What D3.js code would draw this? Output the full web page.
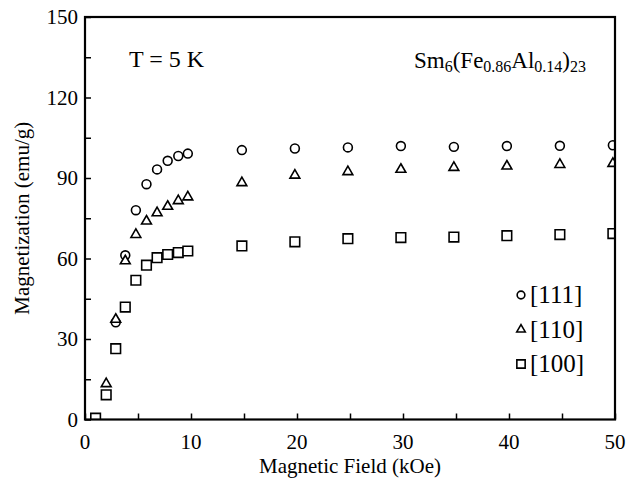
<!DOCTYPE html>
<html>
<head>
<meta charset="utf-8">
<script src="https://cdn.jsdelivr.net/npm/d3@7"></script>
<style>
  body { margin: 0; background: #fff; }
  svg { display: block; font-family: "Liberation Serif", "Times New Roman", serif; }
</style>
</head>
<body>
<svg width="629" height="479"></svg>
<script>
const width = 629;
const height = 479;
const margin = { top: 17, right: 14, bottom: 60, left: 85 };

// [111] circles
const field111 = [2.9, 3.8, 4.8, 5.8, 6.8, 7.8, 8.8, 9.7, 14.8, 19.8, 24.8, 29.8, 34.8, 39.8, 44.8, 49.8];
const mag111 = [36.2, 61.2, 78.0, 87.7, 93.2, 96.4, 98.2, 99.1, 100.4, 101.0, 101.4, 101.9, 101.6, 101.9, 102.0, 102.2];
// [110] triangles
const field110 = [2.0, 2.9, 3.8, 4.8, 5.8, 6.8, 7.8, 8.8, 9.7, 14.8, 19.8, 24.8, 29.8, 34.8, 39.8, 44.8, 49.8];
const mag110 = [13.3, 37.3, 59.1, 68.9, 73.9, 77.0, 79.4, 81.5, 82.9, 88.2, 91.0, 92.3, 93.2, 93.9, 94.4, 95.0, 95.4];
// [100] squares
const field100 = [1.0, 2.0, 2.9, 3.8, 4.8, 5.8, 6.8, 7.8, 8.8, 9.7, 14.8, 19.8, 24.8, 29.8, 34.8, 39.8, 44.8, 49.8];
const mag100 = [0.5, 9.2, 26.4, 41.9, 51.9, 57.5, 60.3, 61.5, 62.2, 62.8, 64.7, 66.2, 67.4, 67.8, 68.0, 68.5, 68.9, 69.3];

const xTicks = [0, 10, 20, 30, 40, 50];
const yTicks = [0, 30, 60, 90, 120, 150];
const legendLabels = ["[111]", "[110]", "[100]"];

const svg = d3.select("svg");
const x = d3.scaleLinear().domain([0, 50]).range([margin.left, width - margin.right]);
const y = d3.scaleLinear().domain([0, 150]).range([height - margin.bottom + 0.5, margin.top]);

svg.append("defs").append("clipPath").attr("id", "plot")
  .append("rect")
  .attr("x", x(0)).attr("y", y(150))
  .attr("width", x(50) - x(0)).attr("height", y(0) - y(150));

const series = [
  { name: legendLabels[0], type: d3.symbolCircle, size: 62, xs: field111, ys: mag111 },
  { name: legendLabels[1], type: d3.symbolTriangle, size: 42, xs: field110, ys: mag110 },
  { name: legendLabels[2], type: d3.symbolSquare, size: 92, xs: field100, ys: mag100 }
];

const marks = svg.append("g").attr("clip-path", "url(#plot)");
series.forEach(s => {
  marks.append("g")
    .selectAll("path")
    .data(s.xs.map((f, i) => [f, s.ys[i]]))
    .join("path")
    .attr("transform", d => `translate(${x(d[0])},${y(d[1])})`)
    .attr("d", d3.symbol().type(s.type).size(s.size))
    .attr("fill", "#fff")
    .attr("stroke", "#000")
    .attr("stroke-width", 1.6);
});

// axes, ticks pointing inward
const xAxis = svg.append("g")
  .attr("transform", `translate(0,${y(0)})`)
  .call(d3.axisBottom(x).tickValues(d3.range(0, 51, 5)).tickSize(-6).tickFormat(""));
const yAxis = svg.append("g")
  .attr("transform", `translate(${x(0)},0)`)
  .call(d3.axisLeft(y).tickValues(d3.range(0, 151, 15)).tickSize(-6).tickFormat(""));
[xAxis, yAxis].forEach(a => {
  a.select(".domain").remove();
  a.selectAll("line").attr("stroke-width", 1.5);
});

svg.append("rect")
  .attr("x", x(0)).attr("y", y(150))
  .attr("width", x(50) - x(0)).attr("height", y(0) - y(150))
  .attr("fill", "none").attr("stroke", "#000").attr("stroke-width", 2.2);

svg.append("g").selectAll("text")
  .data(xTicks)
  .join("text")
  .attr("x", d => x(d))
  .attr("y", y(0) + 29)
  .attr("text-anchor", "middle")
  .attr("font-size", 21)
  .text(d => d);

svg.append("g").selectAll("text")
  .data(yTicks)
  .join("text")
  .attr("x", x(0) - 7)
  .attr("y", d => y(d) + 7)
  .attr("text-anchor", "end")
  .attr("font-size", 21)
  .text(d => d);

svg.append("text")
  .attr("x", (x(0) + x(50)) / 2)
  .attr("y", 473)
  .attr("text-anchor", "middle")
  .attr("font-size", 21)
  .text("Magnetic Field (kOe)");

svg.append("text")
  .attr("transform", `translate(29,${(y(0) + y(150)) / 2}) rotate(-90)`)
  .attr("text-anchor", "middle")
  .attr("font-size", 21)
  .text("Magnetization (emu/g)");

svg.append("text")
  .attr("x", 129).attr("y", 67)
  .attr("font-size", 24)
  .text("T = 5 K");

const formula = svg.append("text")
  .attr("x", 414).attr("y", 68)
  .attr("font-size", 23);
[["Sm", 0], ["6", 1], ["(Fe", 0], ["0.86", 1], ["Al", 0], ["0.14", 1], [")", 0], ["23", 1]]
  .forEach(([t, sub]) => {
    formula.append("tspan")
      .attr("y", sub ? 72 : 68)
      .attr("font-size", sub ? 16 : 23)
      .text(t);
  });

const legend = svg.append("g");
series.forEach((s, i) => {
  const ly = 295 + i * 34.5;
  legend.append("path")
    .attr("transform", `translate(521,${ly})`)
    .attr("d", d3.symbol().type(s.type).size(s.size * 0.75))
    .attr("fill", "#fff").attr("stroke", "#000").attr("stroke-width", 1.6);
  legend.append("text")
    .attr("x", 530).attr("y", ly + 8)
    .attr("font-size", 25)
    .text(s.name);
});
</script>
</body>
</html>
